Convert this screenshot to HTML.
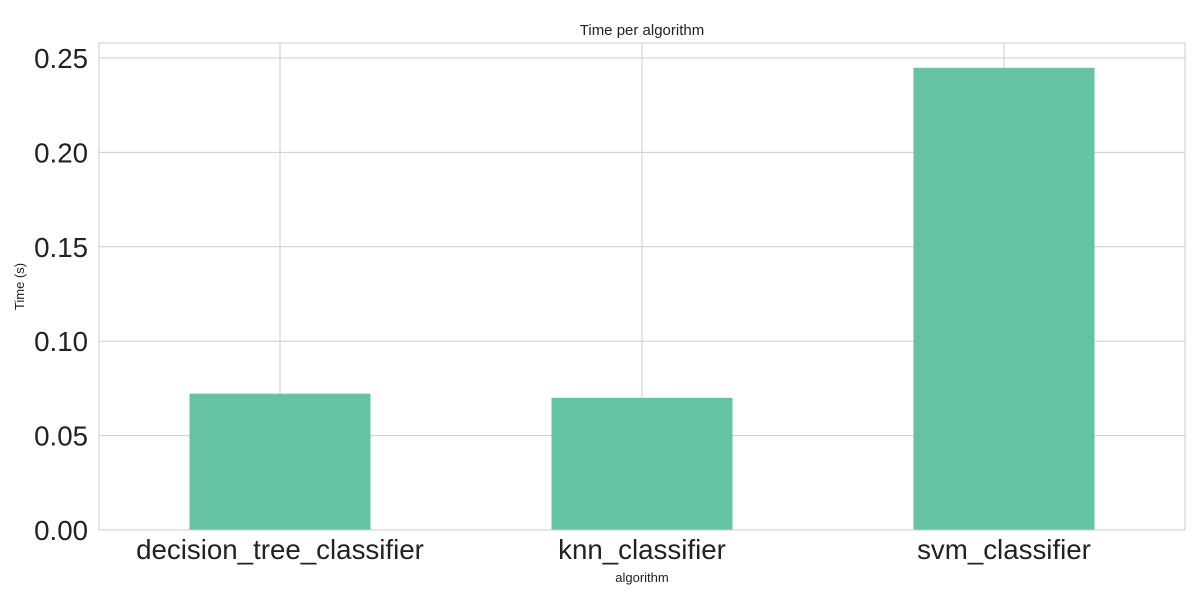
<!DOCTYPE html>
<html><head><meta charset="utf-8"><style>
html,body{margin:0;padding:0;background:#fff;}
svg{display:block;font-family:"Liberation Sans",sans-serif;}
</style></head><body>
<svg id="chart" width="1200" height="600" xmlns="http://www.w3.org/2000/svg"></svg>
<script>
const categories = ["decision_tree_classifier", "knn_classifier", "svm_classifier"];
const times = [0.0722, 0.0700, 0.2448];
const yTicks = [0, 0.05, 0.10, 0.15, 0.20, 0.25];
const yTickLabels = ["0.00", "0.05", "0.10", "0.15", "0.20", "0.25"];

const L = 99, R = 1185, T = 43, B = 530;
const yMin = 0, yMax = 0.25 * (B - T) / (530 - 58);
const y = v => B - (v - yMin) / (yMax - yMin) * (B - T);
const step = (R - L) / categories.length;
const x = i => L + step * (i + 0.5);
const svg = document.getElementById('chart');
const NS = "http://www.w3.org/2000/svg";
function mk(tag, attrs, text) {
  const e = document.createElementNS(NS, tag);
  for (const k in attrs) e.setAttribute(k, attrs[k]);
  if (text !== undefined) e.textContent = text;
  svg.appendChild(e);
  return e;
}
yTicks.forEach((t, i) => {
  const g = mk('line', {x1: L, x2: R, y1: y(t), y2: y(t), stroke: '#cccccc', 'stroke-width': 1});
  
  
  const lb = mk('text', {x: L - 11, y: y(t) + 10, 'text-anchor': 'end', 'font-size': 27.7, fill: '#222'}, yTickLabels[i]);
  
  
});
categories.forEach((c, i) => {
  const g = mk('line', {x1: x(i), x2: x(i), y1: T, y2: B, stroke: '#cccccc', 'stroke-width': 1});
  
  
});
const bw = step * 0.5;
categories.forEach((c, i) => {
  const b = mk('rect', {x: x(i) - bw / 2, y: y(times[i]), width: bw, height: y(0) - y(times[i]), fill: '#66c2a5'});
  
  
  const lb = mk('text', {x: x(i), y: 559, 'text-anchor': 'middle', 'font-size': 27.7, fill: '#222'}, c);
  
  
});
const fr = mk('rect', {x: L, y: T, width: R - L, height: B - T, fill: 'none', stroke: '#cccccc', 'stroke-width': 1});


const ti = mk('text', {x: (L + R) / 2, y: 35, 'text-anchor': 'middle', 'font-size': 15, fill: '#222'}, 'Time per algorithm');


const xt = mk('text', {x: (L + R) / 2, y: 582, 'text-anchor': 'middle', 'font-size': 13, fill: '#222'}, 'algorithm');


const yt = mk('text', {x: 0, y: 0, 'text-anchor': 'middle', 'font-size': 13, fill: '#222', transform: 'translate(24,' + ((T + B) / 2) + ') rotate(-90)'}, 'Time (s)');


</script>
</body></html>
